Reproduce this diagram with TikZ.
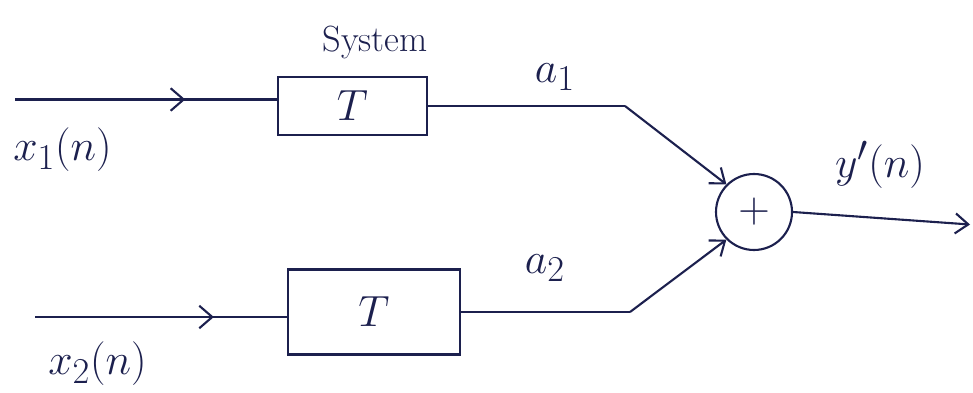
\documentclass[tikz,border=0pt]{standalone}
\usepackage{amsmath, amssymb}
\usepackage{tikz}
\usepackage{xcolor}
\usetikzlibrary{shapes.geometric, decorations.markings, arrows.meta}
\definecolor{inkblue}{RGB}{28, 32, 78}

\begin{document}
\begin{tikzpicture}[
    font=\Huge,
    line width=1.2pt,
    inkblue,
    sysbox/.style={draw, rectangle, minimum width=#1, minimum height=1.2cm},
    sysbox/.default=3cm,
    sumnode/.style={draw, circle, minimum size=1.52cm, inner sep=0pt},
    tip/.style={-{Straight Barb[length=2.6mm, width=4mm]}},
    midtip/.style={postaction={decorate}, decoration={markings,
        mark=at position #1 with {\arrow{Straight Barb[length=2.6mm, width=4.5mm]}}}}
]
    \useasboundingbox (0, 0) rectangle (19.46, 7.84);

    % ==========================================
    % COORDINATES
    % ==========================================
    % Inputs
    \coordinate (in_top) at (0.30, 5.85);
    \coordinate (in_bot) at (0.70, 1.50);

    % Bend points after the systems
    \coordinate (bend_top) at (12.5, 5.72);
    \coordinate (bend_bot) at (12.6, 1.60);

    % Output end
    \coordinate (out_end) at (19.4, 3.35);


    % ==========================================
    % BLOCKS
    % ==========================================
    \node[sysbox=2.98cm, minimum height=1.16cm] (sys_top) at (7.05, 5.72) {$T$};
    \node[sysbox=3.44cm, minimum height=1.70cm] (sys_bot) at (7.48, 1.60) {$T$};

    \node[sumnode] (sum) at (15.08, 3.60) {$+$};


    % ==========================================
    % SIGNAL LINES
    % ==========================================
    % Top branch
    \draw[midtip=0.65] (in_top) -- (in_top -| sys_top.west);
    \draw (sys_top.east) -- (bend_top);
    \draw[tip] (bend_top) -- (sum.north west);

    % Bottom branch
    \draw[midtip=0.71] (in_bot) -- (in_bot -| sys_bot.west);
    \draw (sys_bot.east) -- (bend_bot);
    \draw[tip] (bend_bot) -- (sum.south west);

    % Output
    \draw[tip] (sum.east) -- (out_end);


    % ==========================================
    % LABELS
    % ==========================================
    \node[font=\huge] (lbl_sys) at (7.5, 7.00) {System};
    \node (lbl_x1) at (1.25, 4.84) {$x_1(n)$};
    \node (lbl_x2) at (1.95, 0.56) {$x_2(n)$};
    \node (lbl_a1) at (11.1, 6.30) {$a_1$};
    \node (lbl_a2) at (10.9, 2.48) {$a_2$};
    \node (lbl_y) at (17.6, 4.54) {$y'(n)$};

\end{tikzpicture}
\end{document}
